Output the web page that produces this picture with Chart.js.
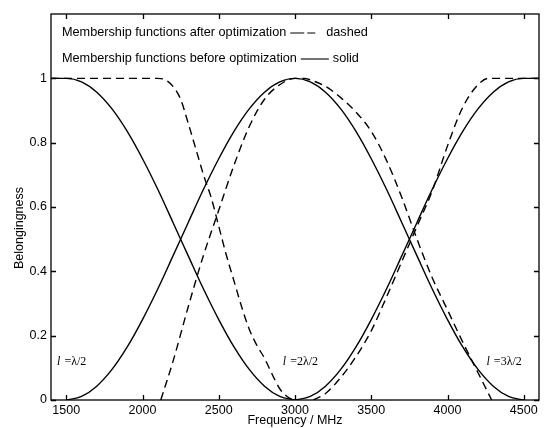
<!DOCTYPE html>
<html>
<head>
<meta charset="utf-8">
<script src="https://cdn.jsdelivr.net/npm/chart.js@4.4.1/dist/chart.umd.min.js"></script>
<style>
  html, body { margin: 0; padding: 0; background: #fff; }
  #wrap { width: 548px; height: 428px; }
</style>
</head>
<body>
<div id="wrap"><canvas id="chart" width="548" height="428"></canvas></div>
<script>
// tick values
const xTickVals = [1500, 2000, 2500, 3000, 3500, 4000, 4500];
const yTickVals = [0, 0.2, 0.4, 0.6, 0.8, 1];

// before optimization (solid)
const s1Freq = [1400, 1500, 1600, 1700, 1800, 1900, 2000, 2100, 2200, 2300, 2400, 2500, 2600, 2700, 2800, 2900, 3000];
const s1Vals = [1, 1, 0.989, 0.957, 0.905, 0.835, 0.75, 0.655, 0.552, 0.448, 0.345, 0.25, 0.165, 0.095, 0.043, 0.011, 0];

const s2Freq = [1500, 1600, 1700, 1800, 1900, 2000, 2100, 2200, 2300, 2400, 2500, 2600, 2700, 2800, 2900, 3000,
                3100, 3200, 3300, 3400, 3500, 3600, 3700, 3800, 3900, 4000, 4100, 4200, 4300, 4400, 4500];
const s2Vals = [0, 0.011, 0.043, 0.095, 0.165, 0.25, 0.345, 0.448, 0.552, 0.655, 0.75, 0.835, 0.905, 0.957, 0.989, 1,
                0.989, 0.957, 0.905, 0.835, 0.75, 0.655, 0.552, 0.448, 0.345, 0.25, 0.165, 0.095, 0.043, 0.011, 0];

const s3Freq = [3000, 3100, 3200, 3300, 3400, 3500, 3600, 3700, 3800, 3900, 4000, 4100, 4200, 4300, 4400, 4500, 4600];
const s3Vals = [0, 0.011, 0.043, 0.095, 0.165, 0.25, 0.345, 0.448, 0.552, 0.655, 0.75, 0.835, 0.905, 0.957, 0.989, 1, 1];

// after optimization (dashed)
const d1Freq = [1400, 2100, 2150, 2200, 2250, 2300, 2350, 2400, 2450, 2500, 2550, 2600, 2650, 2700, 2750, 2800, 2850, 2900, 2950, 2990];
const d1Vals = [1, 1, 0.995, 0.975, 0.935, 0.86, 0.78, 0.70, 0.63, 0.54, 0.45, 0.37, 0.29, 0.22, 0.17, 0.13, 0.08, 0.035, 0.01, 0];

const d2Freq = [2120, 2200, 2300, 2400, 2500, 2600, 2700, 2800, 2900, 3000, 3060, 3100, 3200, 3300, 3400,
                3500, 3600, 3700, 3800, 3900, 4000, 4100, 4200, 4290];
const d2Vals = [0, 0.12, 0.29, 0.45, 0.59, 0.73, 0.85, 0.935, 0.98, 1, 1, 0.995, 0.975, 0.94, 0.895,
                0.835, 0.745, 0.63, 0.5, 0.38, 0.28, 0.18, 0.085, 0];

const d3Freq = [3120, 3200, 3300, 3400, 3500, 3600, 3700, 3800, 3900, 4000, 4100, 4200, 4270, 4600];
const d3Vals = [0, 0.02, 0.07, 0.135, 0.215, 0.32, 0.43, 0.54, 0.65, 0.79, 0.91, 0.98, 1, 1];

// curve labels (left freq, belongingness)
const curveLabels = [
  { f: 1440, v: 0.118, txt: '=λ/2' },
  { f: 2920, v: 0.118, txt: '=2λ/2' },
  { f: 4256, v: 0.118, txt: '=3λ/2' }
];

const pts = (fs, vs) => fs.map((f, i) => ({ x: f, y: vs[i] }));

function line(ds, dashed) {
  return {
    data: ds,
    borderColor: '#000',
    borderWidth: 1.4,
    borderDash: dashed ? [8, 5] : [],
    pointRadius: 0,
    fill: false,
    cubicInterpolationMode: 'monotone'
  };
}

const SANS = '"Liberation Sans", Arial, sans-serif';
const SERIF = '"Liberation Serif", "Times New Roman", serif';

const overlay = {
  id: 'overlay',
  afterDraw(chart) {
    const { ctx, chartArea: a, scales: { x, y } } = chart;
    ctx.save();
    ctx.strokeStyle = '#000';
    ctx.lineWidth = 1.3;
    ctx.setLineDash([]);
    ctx.strokeRect(a.left, a.top, a.right - a.left, a.bottom - a.top);

    // inward ticks on all four sides
    ctx.beginPath();
    xTickVals.forEach(v => {
      const px = Math.round(x.getPixelForValue(v)) + 0.5;
      ctx.moveTo(px, a.bottom); ctx.lineTo(px, a.bottom - 5);
      ctx.moveTo(px, a.top); ctx.lineTo(px, a.top + 5);
    });
    yTickVals.forEach(v => {
      const py = Math.round(y.getPixelForValue(v)) + 0.5;
      ctx.moveTo(a.left, py); ctx.lineTo(a.left + 5, py);
      ctx.moveTo(a.right, py); ctx.lineTo(a.right - 5, py);
    });
    ctx.stroke();

    // legend text inside plot
    ctx.fillStyle = '#000';
    ctx.font = '12.7px ' + SANS;
    ctx.textBaseline = 'middle';
    const lx = a.left + 11;
    const rows = [
      { txt: 'Membership functions after optimization', dash: [14, 3, 8, 100], word: 'dashed', y: 32, gap: 8 },
      { txt: 'Membership functions before optimization', dash: [], word: 'solid', y: 58, gap: 4 }
    ];
    rows.forEach(r => {
      ctx.fillText(r.txt, lx, r.y);
      const w = ctx.measureText(r.txt).width;
      const x0 = lx + w + 4;
      ctx.beginPath();
      ctx.setLineDash(r.dash);
      ctx.lineWidth = 1.1;
      ctx.moveTo(x0, r.y + 1); ctx.lineTo(x0 + 28, r.y + 1);
      ctx.stroke();
      ctx.setLineDash([]);
      ctx.fillText(r.word, x0 + 28 + r.gap, r.y);
    });

    // curve labels
    curveLabels.forEach(c => {
      const px = x.getPixelForValue(c.f);
      const py = y.getPixelForValue(c.v);
      ctx.font = 'italic 12px ' + SERIF;
      ctx.fillText('l', px, py);
      const w = ctx.measureText('l ').width;
      ctx.font = '12px ' + SERIF;
      ctx.fillText(c.txt, px + w + 1, py);
    });

    // y axis title
    ctx.save();
    ctx.translate(20, 228);
    ctx.rotate(-Math.PI / 2);
    ctx.textAlign = 'center';
    ctx.font = '12.5px ' + SANS;
    ctx.fillText('Belongingness', 0, 0);
    ctx.restore();

    ctx.restore();
  }
};

new Chart(document.getElementById('chart'), {
  type: 'line',
  data: {
    datasets: [
      line(pts(s1Freq, s1Vals), false),
      line(pts(s2Freq, s2Vals), false),
      line(pts(s3Freq, s3Vals), false),
      line(pts(d1Freq, d1Vals), true),
      line(pts(d2Freq, d2Vals), true),
      line(pts(d3Freq, d3Vals), true)
    ]
  },
  options: {
    responsive: false,
    animation: false,
    layout: { padding: { left: 0, right: 9, top: 14, bottom: 0 } },
    plugins: { legend: { display: false }, tooltip: { enabled: false } },
    scales: {
      x: {
        type: 'linear',
        min: 1400,
        max: 4600,
        afterBuildTicks: s => { s.ticks = xTickVals.map(v => ({ value: v })); },
        afterFit: s => { s.height = 28; },
        grid: { display: false, drawTicks: false },
        border: { display: false },
        ticks: { color: '#000', font: { family: SANS, size: 12.5 }, padding: 3, maxRotation: 0,
                 callback: v => String(v) },
        title: { display: true, text: 'Frequency / MHz', color: '#000', font: { family: SANS, size: 12.5 }, padding: 0 }
      },
      y: {
        type: 'linear',
        min: 0,
        max: 1.2,
        afterBuildTicks: s => { s.ticks = yTickVals.map(v => ({ value: v })); },
        afterFit: s => { s.width = 51; },
        grid: { display: false, drawTicks: false },
        border: { display: false },
        ticks: { color: '#000', font: { family: SANS, size: 12.5 }, padding: 4,
                 callback: v => String(Math.round(v * 10) / 10) }
      }
    }
  },
  plugins: [overlay]
});
</script>
</body>
</html>
